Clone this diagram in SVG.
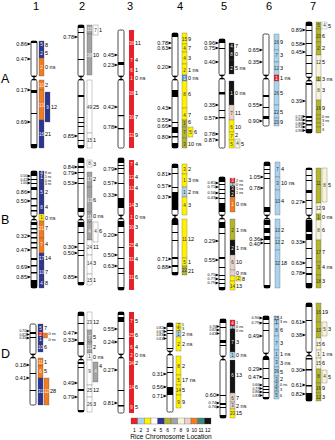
<svg xmlns="http://www.w3.org/2000/svg" width="335" height="440" viewBox="0 0 335 440">
<defs>
<style>
.c{fill:#fff;stroke:#000;stroke-width:.7}
.s rect{stroke:#555;stroke-width:.3}
.t{font-family:"Liberation Sans",Arial,sans-serif;font-size:5.5px;fill:#000;dominant-baseline:central}
.e{text-anchor:end}
.sm{font-size:3.8px}
.xs{font-size:3.3px}
.i{font-family:"Liberation Sans",Arial,sans-serif;font-size:4.5px;fill:#333;text-anchor:middle;dominant-baseline:central}
.w{fill:#fff2e8}
.h{font-family:"Liberation Sans",Arial,sans-serif;font-size:11px;text-anchor:middle}
.rl{font-family:"Liberation Sans",Arial,sans-serif;font-size:12.5px}
.c1{fill:#e8202a}.c2{fill:#a9d3ef}.c3{fill:#fff200}.c4{fill:#fff}.c5{fill:#2b3592}.c6{fill:#b3b52c}
.c7{fill:#a3a3a3}.c8{fill:#f6f4d8}.c9{fill:#e9d3c9}.c10{fill:#f37b21}.c11{fill:#3a8a80}.c12{fill:#141414}.cb{fill:#5a9bd4}
</style>
</defs>
<rect width="335" height="440" fill="#fff"/>
<g id="headers">
<text class="h" x="36" y="10">1</text><text class="h" x="82" y="10">2</text><text class="h" x="130" y="10">3</text>
<text class="h" x="180" y="10">4</text><text class="h" x="224" y="10">5</text><text class="h" x="269" y="10">6</text><text class="h" x="313" y="10">7</text>
<text class="rl" x="1" y="83">A</text><text class="rl" x="1" y="224">B</text><text class="rl" x="1" y="358">D</text>
</g>

<!-- ROW A -->
<g id="n1A">
<rect class="c" x="31" y="41" width="6" height="35" rx="1.5"/><rect class="c" x="31" y="80" width="6" height="68" rx="1.5"/>
<path d="M31,76h6l-6,4h6zM31,41h6v2h-6zM31,90h6v3h-6zM31,113h6v1h-6zM31,144h6v4h-6z"/>
<path d="M31,44l-3.5-1.4v2.8zM31,59l-3.5-1.4v2.8zM31,90l-3.5-1.4v2.8zM31,122l-3.5-1.4v2.8z"/>
<g class="t e"><text x="27" y="44">0.86</text><text x="27" y="59">0.47</text><text x="27" y="90">0.17</text><text x="27" y="122">0.69</text></g>
<g class="s"><rect class="c5" x="39" y="41" width="5" height="7"/><rect class="c5" x="39" y="48" width="5" height="10"/><rect class="c10" x="39" y="58" width="5" height="18"/><rect class="c10" x="39" y="80" width="5" height="10"/><rect class="c10" x="39" y="90" width="5" height="30"/><rect class="c5" x="39" y="120" width="5" height="28"/><rect class="c5" x="45" y="92" width="5" height="30"/></g>
<g class="i w"><text x="41.5" y="44.5">5</text><text x="41.5" y="53">2</text><text x="41.5" y="67">2</text><text x="41.5" y="85">10</text><text x="41.5" y="105">13</text><text x="41.5" y="134">16</text><text x="47.5" y="107">9</text></g>
<g class="t"><text x="45" y="44.5">8</text><text x="45" y="53">5</text><text x="45" y="67">0 ns</text><text x="45" y="85">2</text><text x="45" y="134">21</text><text x="51" y="107">12</text></g>
</g>

<g id="n2A">
<rect class="c" x="78" y="25" width="6" height="51" rx="1.5"/><rect class="c" x="78" y="80" width="6" height="68" rx="1.5"/>
<path d="M78,76h6l-6,4h6zM78,25h6v3h-6zM78,32h6v1h-6zM78,59h6v1h-6zM78,95h6v2h-6zM78,117h6v1h-6zM78,122h6v1h-6zM78,126h6v1h-6zM78,133h6v1h-6zM78,140h6v1h-6zM78,145h6v3h-6z"/>
<path d="M78,37l-3.5-1.4v2.8zM78,136l-3.5-1.4v2.8z"/>
<g class="t e"><text x="74" y="37">0.78</text><text x="74" y="136">0.85</text></g>
<g class="s"><rect class="c7" x="87" y="25" width="5" height="9"/><rect class="c7" x="87" y="34" width="5" height="41"/><rect class="c4" x="93" y="25" width="5" height="10"/><rect class="c4" x="87" y="80" width="5" height="53"/><rect class="c4" x="87" y="133" width="5" height="15"/></g>
<g class="i w"><text x="89.5" y="29">15</text><text x="89.5" y="55">38</text></g>
<g class="i"><text x="95.5" y="30">7</text><text x="89.5" y="107">49</text><text x="89.5" y="140">15</text></g>
<g class="t"><text x="99" y="30">1</text><text x="93" y="55">10</text><text x="93" y="107">25</text><text x="93" y="140">1</text></g>
</g>

<g id="n3A">
<rect class="c" x="118" y="30" width="6" height="46" rx="1.5"/><rect class="c" x="118" y="80" width="6" height="68" rx="1.5"/>
<path d="M118,76h6l-6,4h6zM118,62h6v3h-6zM118,115h6v1.2h-6zM118,128h6v1.2h-6z"/>
<path d="M118,55l-3.5-1.4v2.8zM118,65l-3.5-1.4v2.8zM118,107l-3.5-1.4v2.8zM118,127l-3.5-1.4v2.8z"/>
<g class="t e"><text x="114" y="55">0.45</text><text x="114" y="65">0.23</text><text x="114" y="107">0.42</text><text x="114" y="127">0.78</text></g>
<rect class="c1" x="129" y="30" width="5" height="118"/>
<g class="i w"><text x="131.5" y="43">38</text><text x="131.5" y="60">7</text><text x="131.5" y="70">6</text><text x="131.5" y="78">1</text><text x="131.5" y="93">38</text><text x="131.5" y="117">30</text><text x="131.5" y="135">32</text></g>
<g class="t"><text x="135" y="43">11</text><text x="135" y="60">4</text><text x="135" y="70">1</text><text x="135" y="78">0 ns</text><text x="135" y="93">1</text><text x="135" y="117">7</text><text x="135" y="135">9</text></g>
</g>

<g id="n4A">
<rect class="c" x="172" y="33" width="6" height="43" rx="1.5"/><rect class="c" x="172" y="80" width="6" height="68" rx="1.5"/>
<path d="M172,76h6l-6,4h6zM172,33h6v4h-6zM172,90h6v7h-6zM172,122h6v1h-6zM172,127h6v6h-6zM172,136h6v1.5h-6zM172,143h6v5h-6z"/>
<path d="M172,43l-3.5-1.4v2.8zM172,48l-3.5-1.4v2.8zM172,67l-3.5-1.4v2.8zM172,108l-3.5-1.4v2.8zM172,120l-3.5-1.4v2.8zM172,126l-3.5-1.4v2.8zM172,137l-3.5-1.4v2.8z"/>
<g class="t e"><text x="168" y="43">0.78</text><text x="168" y="48">0.63</text><text x="168" y="67">0.20</text><text x="168" y="108">0.43</text><text x="168" y="120">0.55</text><text x="168" y="126">0.66</text><text x="168" y="137">0.80</text></g>
<g class="s"><rect class="c3" x="182" y="33" width="5" height="11"/><rect class="c3" x="182" y="44" width="5" height="8"/><rect class="c3" x="182" y="52" width="5" height="12"/><rect class="c3" x="182" y="64" width="5" height="11"/><rect class="cb" x="182" y="75" width="5" height="6"/><rect class="c3" x="182" y="81" width="5" height="27"/><rect class="c3" x="182" y="108" width="5" height="12"/><rect class="c6" x="182" y="120" width="5" height="7"/><rect class="c6" x="182" y="127" width="5" height="11"/><rect class="c6" x="182" y="138" width="5" height="10"/><rect class="c3" x="188" y="127" width="5" height="10"/></g>
<g class="i"><text x="184.5" y="39">15</text><text x="184.5" y="48">4</text><text x="184.5" y="58">4</text><text x="184.5" y="70">2</text><text x="184.5" y="94">8</text><text x="184.5" y="115">4</text><text x="184.5" y="123">1</text><text x="184.5" y="132">7</text><text x="184.5" y="144">3</text><text x="190.5" y="132">5</text></g>
<text class="i w" x="184.5" y="78">1</text>
<g class="t"><text x="188" y="39">9</text><text x="188" y="48">7</text><text x="188" y="58">3</text><text x="188" y="70">1 ns</text><text x="188" y="78">0 ns</text><text x="188" y="94">6</text><text x="188" y="115">7</text><text x="188" y="122">6</text><text x="194" y="132">6</text><text x="188" y="144">10 ns</text></g>
</g>

<g id="n5A">
<rect class="c" x="219" y="39" width="6" height="36" rx="1.5"/><rect class="c" x="219" y="79" width="6" height="69" rx="1.5"/>
<path d="M219,75h6l-6,4h6zM219,39h6v4h-6zM219,48h6v1h-6zM219,92h6v2.5h-6zM219,110h6v1h-6zM219,117h6v1.2h-6z"/>
<path d="M219,43l-3.5-1.4v2.8zM219,48l-3.5-1.4v2.8zM219,62l-3.5-1.4v2.8zM219,105l-3.5-1.4v2.8zM219,118l-3.5-1.4v2.8zM219,134l-3.5-1.4v2.8zM219,140l-3.5-1.4v2.8z"/>
<g class="t e"><text x="215" y="43">0.96</text><text x="215" y="48">0.75</text><text x="215" y="62">0.40</text><text x="215" y="105">0.35</text><text x="215" y="118">0.57</text><text x="215" y="134">0.78</text><text x="215" y="140">0.87</text></g>
<g class="s"><rect class="c12" x="229" y="43" width="5" height="7"/><rect class="c12" x="229" y="50" width="5" height="10"/><rect class="c12" x="229" y="60" width="5" height="14"/><rect class="c12" x="229" y="81" width="5" height="24"/><rect class="c9" x="229" y="105" width="5" height="15"/><rect class="c3" x="229" y="120" width="5" height="12"/><rect class="c3" x="229" y="132" width="5" height="8"/><rect class="c3" x="229" y="140" width="5" height="8"/><rect class="c8" x="235" y="139" width="5" height="9"/></g>
<g class="i w"><text x="231.5" y="46">4</text><text x="231.5" y="54">8</text><text x="231.5" y="68">2</text><text x="231.5" y="93">1</text></g>
<g class="i"><text x="231.5" y="113">7</text><text x="231.5" y="127">6</text><text x="231.5" y="136">7</text><text x="231.5" y="144">5</text><text x="237.5" y="143.5">4</text></g>
<g class="t"><text x="235" y="46">7</text><text x="235" y="54">0</text><text x="235" y="68">5 ns</text><text x="235" y="93">0 ns</text><text x="235" y="113">11</text><text x="235" y="127">10</text><text x="235" y="135">2</text><text x="241" y="143.5">5</text></g>
</g>

<g id="n6A">
<rect class="c" x="263" y="34" width="6" height="41" rx="1.5"/><rect class="c" x="263" y="79" width="6" height="47" rx="1.5"/>
<path d="M263,75h6l-6,4h6zM263,95h6v2h-6zM263,107h6v1h-6zM263,116h6v3h-6z"/>
<path d="M263,50l-3.5-1.4v2.8zM263,62l-3.5-1.4v2.8zM263,105l-3.5-1.4v2.8zM263,121l-3.5-1.4v2.8z"/>
<g class="t e"><text x="259" y="50">0.65</text><text x="259" y="62">0.35</text><text x="259" y="105">0.55</text><text x="259" y="121">0.90</text></g>
<g class="s"><rect class="c2" x="274" y="34" width="5" height="16"/><rect class="c2" x="274" y="50" width="5" height="12"/><rect class="c2" x="274" y="62" width="5" height="13"/><rect class="c1" x="274" y="75" width="5" height="6"/><rect class="c2" x="274" y="81" width="5" height="24"/><rect class="c2" x="274" y="105" width="5" height="13"/><rect class="c2" x="274" y="118" width="5" height="8"/></g>
<g class="i"><text x="276.5" y="42">16</text><text x="276.5" y="55">7</text><text x="276.5" y="68">12</text><text x="276.5" y="93">26</text><text x="276.5" y="112">22</text><text x="276.5" y="122">20</text></g>
<text class="i w" x="276.5" y="78">1</text>
<g class="t"><text x="280" y="42">9</text><text x="280" y="55">3</text><text x="280" y="68">3</text><text x="280" y="78">1 ns</text><text x="280" y="93">5</text><text x="280" y="112">5</text><text x="280" y="122">9</text></g>
</g>

<g id="n7A">
<rect class="c" x="306" y="22" width="6" height="55" rx="1.5"/><rect class="c" x="306" y="81" width="6" height="52" rx="1.5"/>
<path d="M306,77h6l-6,4h6zM306,22h6v4h-6zM306,30h6v1h-6zM306,43h6v1h-6zM306,55h6v1h-6zM306,63h6v1h-6zM306,73h6v1h-6zM306,83h6v2h-6zM306,116h6v2h-6zM306,120h6v1.5h-6zM306,124h6v1.5h-6zM306,129h6v4h-6z"/>
<path d="M306,30l-3.5-1.4v2.8zM306,44l-3.5-1.4v2.8zM306,52l-3.5-1.4v2.8zM306,101l-3.5-1.4v2.8zM306,116.5l-3.5-1.4v2.8zM306,120l-3.5-1.4v2.8zM306,123.5l-3.5-1.4v2.8zM306,127l-3.5-1.4v2.8zM306,130.5l-3.5-1.4v2.8z"/>
<g class="t e"><text x="302" y="30">0.89</text><text x="302" y="44">0.58</text><text x="302" y="52">0.45</text><text x="302" y="101">0.39</text></g>
<g class="t e xs"><text x="302" y="116.5">0.71</text><text x="302" y="120">0.84</text><text x="302" y="123.5">0.86</text><text x="302" y="127">0.93</text><text x="302" y="130.5">0.96</text></g>
<g class="s"><rect class="c6" x="316" y="22" width="5" height="7"/><rect class="c6" x="316" y="29" width="5" height="13"/><rect class="c6" x="316" y="42" width="5" height="13"/><rect class="c8" x="316" y="55" width="5" height="22"/><rect class="c6" x="316" y="77" width="5" height="4"/><rect class="c8" x="316" y="81" width="5" height="19"/><rect class="c6" x="316" y="100" width="5" height="15"/><rect class="c6" x="316" y="115" width="5" height="4"/><rect class="c6" x="316" y="119" width="5" height="4"/><rect class="c6" x="316" y="123" width="5" height="4"/><rect class="c6" x="316" y="127" width="5" height="6"/><rect class="c4" x="322" y="22" width="5" height="7" style="stroke:#4a7fb0"/></g>
<g class="i"><text x="318.5" y="25.5">5</text><text x="318.5" y="36">20</text><text x="318.5" y="48">2</text><text x="318.5" y="62">12</text><text x="318.5" y="79">1</text><text x="318.5" y="90">8</text><text x="318.5" y="108">16</text><text x="324.5" y="25.5">4</text></g>
<g class="t"><text x="328" y="25.5">5</text><text x="322" y="36">6</text><text x="322" y="48">2</text><text x="322" y="62">5</text><text x="322" y="79">3 ns</text><text x="322" y="90">3</text><text x="322" y="108">9</text></g>
<g class="t sm"><text x="322" y="117">0 ns</text><text x="322" y="121">3 ns</text><text x="322" y="125">1</text><text x="322" y="130">3</text></g>
</g>

<!-- ROW B -->
<g id="n1B">
<rect class="c" x="31" y="171" width="6" height="45" rx="1.5"/><rect class="c" x="31" y="220" width="6" height="68" rx="1.5"/>
<path d="M31,216h6l-6,4h6zM31,171h6v5h-6zM31,179h6v1h-6zM31,183h6v1h-6zM31,187h6v3h-6zM31,198h6v1.5h-6zM31,205h6v1.5h-6zM31,210h6v1.5h-6zM31,222h6v3h-6zM31,228h6v1.5h-6zM31,232h6v1.5h-6zM31,237h6v1.5h-6zM31,242h6v1.5h-6zM31,247h6v1.5h-6zM31,258h6v2h-6zM31,265h6v1.5h-6zM31,272h6v1.5h-6zM31,280h6v8h-6z"/>
<path d="M31,176l-3.5-1.4v2.8zM31,179.5l-3.5-1.4v2.8zM31,183l-3.5-1.4v2.8zM31,192l-3.5-1.4v2.8zM31,201l-3.5-1.4v2.8zM31,236l-3.5-1.4v2.8zM31,250l-3.5-1.4v2.8zM31,267l-3.5-1.4v2.8zM31,277l-3.5-1.4v2.8z"/>
<g class="t e xs"><text x="27" y="176">0.50</text><text x="27" y="179.5">0.41</text><text x="27" y="183">1.00</text></g>
<g class="t e"><text x="27" y="192">0.86</text><text x="27" y="201">0.50</text><text x="27" y="236">0.32</text><text x="27" y="250">0.47</text><text x="27" y="267">0.69</text><text x="27" y="277">0.85</text></g>
<g class="s"><rect class="c5" x="39" y="171" width="5" height="4"/><rect class="c5" x="39" y="175" width="5" height="4"/><rect class="c5" x="39" y="179" width="5" height="3"/><rect class="c5" x="39" y="182" width="5" height="3"/><rect class="c5" x="39" y="185" width="5" height="15"/><rect class="c5" x="39" y="200" width="5" height="14"/><rect class="c3" x="39" y="214" width="5" height="7"/><rect class="c10" x="39" y="221" width="5" height="17"/><rect class="c10" x="39" y="238" width="5" height="15"/><rect class="c5" x="39" y="253" width="5" height="12"/><rect class="c5" x="39" y="265" width="5" height="13"/><rect class="c5" x="39" y="278" width="5" height="10"/></g>
<g class="i w"><text x="41.5" y="173">4</text><text x="41.5" y="177">1</text><text x="41.5" y="192">5</text><text x="41.5" y="207">8</text><text x="41.5" y="228">21</text><text x="41.5" y="244">7</text><text x="41.5" y="258">17</text><text x="41.5" y="272">10</text><text x="41.5" y="283">4</text></g>
<text class="i" x="41.5" y="217.5">1</text>
<g class="t xs"><text x="45" y="173">8 ns</text><text x="45" y="176.8">5 ns</text><text x="45" y="180.5">0 ns</text><text x="45" y="184.2">0 ns</text></g>
<g class="t"><text x="45" y="192">2</text><text x="45" y="207">4</text><text x="45" y="217.5">0 ns</text><text x="45" y="228">7</text><text x="45" y="244">4</text><text x="45" y="258">14</text><text x="45" y="272">7</text><text x="45" y="283">8</text></g>
</g>

<g id="n2B">
<rect class="c" x="78" y="158" width="6" height="58" rx="1.5"/><rect class="c" x="78" y="220" width="6" height="65" rx="1.5"/>
<path d="M78,216h6l-6,4h6zM78,158h6v5h-6zM78,166h6v2h-6zM78,172h6v1h-6zM78,178h6v1h-6zM78,183h6v1h-6zM78,208h6v4h-6zM78,222h6v5h-6zM78,232h6v1h-6zM78,243h6v1h-6zM78,250h6v1h-6zM78,255h6v1h-6zM78,282h6v3h-6z"/>
<path d="M78,167l-3.5-1.4v2.8zM78,173l-3.5-1.4v2.8zM78,183l-3.5-1.4v2.8zM78,247l-3.5-1.4v2.8zM78,253l-3.5-1.4v2.8zM78,277l-3.5-1.4v2.8z"/>
<g class="t e"><text x="74" y="167">0.84</text><text x="74" y="173">0.79</text><text x="74" y="183">0.53</text><text x="74" y="246.5">0.30</text><text x="74" y="253">0.50</text><text x="74" y="277">0.85</text></g>
<g class="s"><rect class="c4" x="87" y="160" width="5" height="7"/><rect class="c7" x="87" y="172" width="5" height="15"/><rect class="c7" x="87" y="187" width="5" height="25"/><rect class="c7" x="87" y="212" width="5" height="10"/><rect class="c7" x="87" y="222" width="5" height="18"/><rect class="c4" x="93" y="222" width="5" height="20"/><rect class="c4" x="87" y="240" width="5" height="15"/><rect class="c4" x="87" y="255" width="5" height="19"/><rect class="c4" x="87" y="274" width="5" height="11"/></g>
<g class="i w"><text x="89.5" y="179">17</text><text x="89.5" y="200">13</text><text x="89.5" y="217">11</text><text x="89.5" y="231">4</text></g>
<g class="i"><text x="89.5" y="163.5">8</text><text x="95.5" y="231">4</text><text x="89.5" y="247">24</text><text x="89.5" y="263">14</text><text x="89.5" y="280">15</text></g>
<g class="t"><text x="93" y="163.5">3</text><text x="93" y="179">2</text><text x="93" y="200">6</text><text x="93" y="216">0 ns</text><text x="99" y="231">6</text><text x="93" y="247">11</text><text x="93" y="263">3</text><text x="93" y="280">1</text></g>
</g>

<g id="n3B">
<rect class="c" x="118" y="158" width="6" height="57" rx="1.5"/><rect class="c" x="118" y="219" width="6" height="71" rx="1.5"/>
<path d="M118,215h6l-6,4h6zM118,158h6v5h-6zM118,165h6v1h-6zM118,168h6v1h-6zM118,173h6v1h-6zM118,183h6v1h-6zM118,198h6v10h-6zM118,221h6v6h-6zM118,232h6v1h-6zM118,247h6v1h-6zM118,258h6v1h-6zM118,268h6v1h-6zM118,273h6v1h-6zM118,287h6v3h-6z"/>
<path d="M118,169l-3.5-1.4v2.8zM118,183l-3.5-1.4v2.8zM118,195l-3.5-1.4v2.8zM118,235l-3.5-1.4v2.8zM118,255l-3.5-1.4v2.8zM118,266l-3.5-1.4v2.8z"/>
<g class="t e"><text x="114" y="169">0.79</text><text x="114" y="183">0.57</text><text x="114" y="195">0.33</text><text x="114" y="235">0.20</text><text x="114" y="255">0.50</text><text x="114" y="266">0.63</text></g>
<rect class="c1" x="129" y="160" width="5" height="130"/>
<g class="i w"><text x="131.5" y="164">7</text><text x="131.5" y="177">12</text><text x="131.5" y="188">12</text><text x="131.5" y="205">14</text><text x="131.5" y="217">1</text><text x="131.5" y="227">30</text><text x="131.5" y="245">25</text><text x="131.5" y="259">31</text><text x="131.5" y="277">31</text></g>
<g class="t"><text x="135" y="164">4</text><text x="135" y="177">4</text><text x="135" y="188">4</text><text x="135" y="205">3</text><text x="135" y="217">0 ns</text><text x="135" y="227">3</text><text x="135" y="245">4</text><text x="135" y="259">4</text><text x="135" y="277">6</text></g>
</g>

<g id="n4B">
<rect class="c" x="172" y="164" width="6" height="51" rx="1.5"/><rect class="c" x="172" y="219" width="6" height="56" rx="1.5"/>
<path d="M172,215h6l-6,4h6zM172,164h6v4h-6zM172,173h6v1h-6zM172,187h6v1h-6zM172,192h6v18h-6zM172,219h6v6h-6zM172,232h6v1h-6zM172,240h6v1h-6zM172,257h6v2h-6zM172,265h6v2h-6zM172,272h6v3h-6z"/>
<path d="M172,174l-3.5-1.4v2.8zM172,186l-3.5-1.4v2.8zM172,197l-3.5-1.4v2.8zM172,259l-3.5-1.4v2.8zM172,267l-3.5-1.4v2.8z"/>
<g class="t e"><text x="168" y="174">0.81</text><text x="168" y="186">0.57</text><text x="168" y="197">0.37</text><text x="168" y="259">0.71</text><text x="168" y="267">0.88</text></g>
<g class="s"><rect class="c3" x="182" y="164" width="5" height="10"/><rect class="c3" x="182" y="174" width="5" height="13"/><rect class="c2" x="182" y="187" width="5" height="10"/><rect class="c3" x="182" y="197" width="5" height="18"/><rect class="c3" x="182" y="219" width="5" height="39"/><rect class="c3" x="182" y="258" width="5" height="8"/><rect class="c6" x="182" y="266" width="5" height="9"/></g>
<g class="i"><text x="184.5" y="169">3</text><text x="184.5" y="180">1</text><text x="184.5" y="192">1</text><text x="184.5" y="205">4</text><text x="184.5" y="239">11</text><text x="184.5" y="262">5</text><text x="184.5" y="270.5">22</text></g>
<g class="t"><text x="188" y="169">2</text><text x="188" y="180">3 ns</text><text x="188" y="192">2 ns</text><text x="188" y="205">3</text><text x="188" y="239">12</text><text x="188" y="262">1</text><text x="188" y="270.5">21</text></g>
</g>

<g id="n5B">
<rect class="c" x="219" y="177" width="6" height="38" rx="1.5"/><rect class="c" x="219" y="219" width="6" height="71" rx="1.5"/>
<path d="M219,215h6l-6,4h6zM219,177h6v5h-6zM219,184h6v1h-6zM219,189h6v1h-6zM219,193h6v1h-6zM219,198h6v1h-6zM219,203h6v9h-6zM219,222h6v6h-6zM219,233h6v1h-6zM219,257h6v2h-6zM219,267h6v1h-6zM219,275h6v1h-6zM219,279h6v1h-6zM219,283h6v1h-6zM219,287h6v3h-6z"/>
<path d="M219,183l-3.5-1.4v2.8zM219,187l-3.5-1.4v2.8zM219,193l-3.5-1.4v2.8zM219,198l-3.5-1.4v2.8zM219,241l-3.5-1.4v2.8zM219,260l-3.5-1.4v2.8zM219,275l-3.5-1.4v2.8zM219,279l-3.5-1.4v2.8zM219,283l-3.5-1.4v2.8z"/>
<g class="t e sm"><text x="215" y="183">0.81</text><text x="215" y="187">0.71</text><text x="215" y="192.5">0.56</text><text x="215" y="198">0.43</text><text x="215" y="275">0.75</text><text x="215" y="279">0.77</text><text x="215" y="283">0.79</text></g>
<g class="t e"><text x="215" y="241">0.29</text><text x="215" y="260">0.55</text></g>
<g class="s"><rect class="c1" x="230" y="178" width="5" height="5"/><rect class="c2" x="230" y="183" width="5" height="3"/><rect class="c12" x="230" y="186" width="5" height="5"/><rect class="c12" x="230" y="191" width="5" height="6"/><rect class="c10" x="230" y="197" width="5" height="15"/><rect class="c6" x="230" y="219" width="5" height="21"/><rect class="c12" x="230" y="240" width="5" height="15"/><rect class="c9" x="230" y="255" width="5" height="15"/><rect class="c9" x="230" y="270" width="5" height="6"/><rect class="c3" x="230" y="276" width="5" height="5"/><rect class="c3" x="236" y="276" width="5" height="5"/><rect class="c3" x="230" y="281" width="5" height="9"/></g>
<g class="i w"><text x="232.5" y="180.5">3</text><text x="232.5" y="188.5">3</text><text x="232.5" y="194">2</text><text x="232.5" y="204">1</text><text x="232.5" y="248">2</text></g>
<g class="i"><text x="232.5" y="184.5">1</text><text x="232.5" y="230">2</text><text x="232.5" y="262">6</text><text x="238.5" y="278.5">2</text><text x="232.5" y="286">14</text></g>
<g class="t sm"><text x="236" y="180.5">2 ns</text><text x="236" y="184.5">0 ns</text><text x="236" y="188.5">1 ns</text><text x="236" y="193">1 ns</text></g>
<g class="t"><text x="236" y="204">0 ns</text><text x="236" y="230">1 ns</text><text x="236" y="248">1 ns</text><text x="236" y="262">10</text><text x="236" y="272.5">0 ns</text><text x="242" y="278.5">8</text><text x="236" y="286">13</text></g>
</g>

<g id="n6B">
<rect class="c" x="264" y="162" width="6" height="53" rx="1.5"/><rect class="c" x="264" y="219" width="6" height="69" rx="1.5"/>
<path d="M264,215h6l-6,4h6zM264,162h6v4h-6zM264,169h6v1h-6zM264,173h6v1h-6zM264,178h6v1h-6zM264,207h6v5h-6zM264,220h6v5h-6zM264,228h6v5h-6zM264,236h6v4h-6zM264,243h6v1h-6zM264,285h6v3h-6z"/>
<path d="M264,177l-3.5-1.4v2.8zM264,188l-3.5-1.4v2.8zM264,239.5l-3.5-1.4v2.8zM264,243l-3.5-1.4v2.8z"/>
<g class="t e"><text x="260" y="177">1.05</text><text x="260" y="188">0.78</text><text x="260" y="239">0.36</text><text x="260" y="243.5">0.40</text></g>
<g class="s"><rect class="c2" x="275" y="162" width="5" height="15"/><rect class="c2" x="275" y="177" width="5" height="13"/><rect class="c2" x="275" y="190" width="5" height="25"/><rect class="c2" x="275" y="219" width="5" height="19"/><rect class="c2" x="275" y="238" width="5" height="12"/><rect class="c2" x="275" y="250" width="5" height="38"/></g>
<g class="i"><text x="277.5" y="169">7</text><text x="277.5" y="183">3</text><text x="277.5" y="201">10</text><text x="277.5" y="230">10</text><text x="277.5" y="242">12</text><text x="277.5" y="263">32</text></g>
<g class="t"><text x="281" y="169">4</text><text x="281" y="183">10 ns</text><text x="281" y="201">4</text><text x="281" y="230">2</text><text x="281" y="242">2</text><text x="281" y="263">18</text></g>
</g>

<g id="n7B">
<rect class="c" x="306" y="168" width="6" height="47" rx="1.5"/><rect class="c" x="306" y="219" width="6" height="69" rx="1.5"/>
<path d="M306,215h6l-6,4h6zM306,168h6v2h-6zM306,175h6v1h-6zM306,180h6v1h-6zM306,190h6v3h-6zM306,200h6v1h-6zM306,208h6v1h-6zM306,220h6v12h-6zM306,234h6v6h-6zM306,248h6v1h-6zM306,258h6v1h-6zM306,267h6v1h-6zM306,273h6v2h-6zM306,283h6v5h-6z"/>
<path d="M306,202l-3.5-1.4v2.8zM306,242l-3.5-1.4v2.8zM306,263l-3.5-1.4v2.8zM306,273l-3.5-1.4v2.8z"/>
<g class="t e"><text x="302" y="202">0.27</text><text x="302" y="242">0.33</text><text x="302" y="263">0.63</text><text x="302" y="273">0.78</text></g>
<g class="s"><rect class="c6" x="316" y="168" width="5" height="35"/><rect class="c8" x="322" y="168" width="5" height="34"/><rect class="c8" x="316" y="203" width="5" height="11"/><rect class="c6" x="316" y="214" width="5" height="6"/><rect class="c8" x="316" y="220" width="5" height="20"/><rect class="c6" x="316" y="240" width="5" height="22"/><rect class="c6" x="316" y="262" width="5" height="13"/><rect class="c6" x="316" y="275" width="5" height="13"/></g>
<g class="i"><text x="318.5" y="183">11</text><text x="324.5" y="185">8</text><text x="318.5" y="208">12</text><text x="318.5" y="217">1</text><text x="318.5" y="230">8</text><text x="318.5" y="252">17</text><text x="318.5" y="267">3</text><text x="318.5" y="281">18</text></g>
<g class="t"><text x="328" y="185">5</text><text x="322" y="208">9</text><text x="322" y="217">0 ns</text><text x="322" y="230">6</text><text x="322" y="252">7</text><text x="322" y="267">4 ns</text><text x="322" y="281">3</text></g>
</g>

<!-- ROW D -->
<g id="n1D">
<rect class="c" x="30" y="324" width="6" height="30" rx="1.5"/><rect class="c" x="30" y="358" width="6" height="47" rx="1.5"/>
<path d="M30,354h6l-6,4h6zM30,332h6v2h-6zM30,337h6v1h-6zM30,373h6v1h-6zM30,390h6v1h-6z"/>
<path d="M30,331l-3.5-1.4v2.8zM30,334.5l-3.5-1.4v2.8zM30,338l-3.5-1.4v2.8zM30,365l-3.5-1.4v2.8zM30,378l-3.5-1.4v2.8z"/>
<g class="t e xs"><text x="26" y="331">0.70</text><text x="26" y="334.5">0.62</text><text x="26" y="338">0.35</text></g>
<g class="t e"><text x="26" y="365">0.18</text><text x="26" y="378">0.41</text></g>
<g class="s"><rect class="c5" x="38" y="324" width="5" height="8"/><rect class="c1" x="38" y="332" width="5" height="4"/><rect class="c10" x="43.5" y="333" width="4" height="5"/><rect class="c5" x="38" y="336" width="5" height="6"/><rect class="c5" x="38" y="342" width="5" height="10"/><rect class="c10" x="38" y="358" width="5" height="8"/><rect class="c10" x="38" y="366" width="5" height="12"/><rect class="c5" x="38" y="378" width="5" height="27"/><rect class="c10" x="44" y="378" width="5" height="27"/></g>
<g class="i w"><text x="40.5" y="328">5</text><text x="40.5" y="334">2</text><text x="40.5" y="339">1</text><text x="40.5" y="347">10</text><text x="40.5" y="362">11</text><text x="40.5" y="371">6</text><text x="40.5" y="391">31</text><text x="46.5" y="391">12</text></g>
<g class="t sm"><text x="48.5" y="334">0 ns</text><text x="48.5" y="339.5">0 ns</text></g>
<g class="t"><text x="44" y="328">7</text><text x="44" y="347">6</text><text x="44" y="362">1</text><text x="44" y="371">5</text><text x="50" y="391">28</text></g>
</g>

<g id="n2D">
<rect class="c" x="78" y="312" width="6" height="44" rx="1.5"/><rect class="c" x="78" y="360" width="6" height="52" rx="1.5"/>
<path d="M78,356h6l-6,4h6zM78,312h6v4h-6zM78,323h6v1h-6zM78,342h6v3h-6zM78,362h6v2h-6zM78,367h6v1h-6zM78,389h6v2h-6zM78,410h6v2h-6z"/>
<path d="M78,333l-3.5-1.4v2.8zM78,340l-3.5-1.4v2.8zM78,383l-3.5-1.4v2.8zM78,397l-3.5-1.4v2.8z"/>
<g class="t e"><text x="74" y="333">0.47</text><text x="74" y="340">0.33</text><text x="74" y="383">0.49</text><text x="74" y="397">0.79</text></g>
<g class="s"><rect class="c4" x="87" y="312" width="5" height="18"/><rect class="c7" x="87" y="330" width="5" height="12"/><rect class="c7" x="87" y="342" width="5" height="11"/><rect class="c4" x="87" y="353" width="5" height="7"/><rect class="c4" x="87" y="360" width="5" height="25"/><rect class="c7" x="93" y="362" width="5" height="20"/><rect class="c4" x="87" y="385" width="5" height="12"/><rect class="c4" x="87" y="397" width="5" height="15"/></g>
<g class="i w"><text x="89.5" y="337">7</text><text x="89.5" y="347">11</text><text x="95.5" y="371">4</text></g>
<g class="i"><text x="89.5" y="322">23</text><text x="89.5" y="356.5">1</text><text x="89.5" y="371">9</text><text x="89.5" y="390">25</text><text x="89.5" y="404">26</text></g>
<g class="t"><text x="93" y="322">12</text><text x="93" y="337">5</text><text x="93" y="347">2</text><text x="93" y="356.5">0 ns</text><text x="99" y="366">4</text><text x="93" y="390">12</text><text x="93" y="404">3</text></g>
</g>

<g id="n3D">
<rect class="c" x="118" y="312" width="6" height="42" rx="1.5"/><rect class="c" x="118" y="358" width="6" height="55" rx="1.5"/>
<path d="M118,354h6l-6,4h6zM118,312h6v3h-6zM118,317h6v5h-6zM118,338h6v1h-6zM118,390h6v1h-6zM118,405h6v1.5h-6z"/>
<path d="M118,329l-3.5-1.4v2.8zM118,342l-3.5-1.4v2.8zM118,370l-3.5-1.4v2.8zM118,403l-3.5-1.4v2.8z"/>
<g class="t e"><text x="114" y="329">0.55</text><text x="114" y="342">0.24</text><text x="114" y="370">0.27</text><text x="114" y="403">0.81</text></g>
<rect class="c1" x="129" y="312" width="5" height="101"/>
<g class="i w"><text x="131.5" y="321">7</text><text x="131.5" y="335">25</text><text x="131.5" y="347">6</text><text x="131.5" y="355">2</text><text x="131.5" y="363">34</text><text x="131.5" y="387">14</text><text x="131.5" y="407">9</text></g>
<g class="t"><text x="135" y="321">5</text><text x="135" y="335">6</text><text x="135" y="347">4</text><text x="135" y="355">0 ns</text><text x="135" y="363">2</text><text x="135" y="387">6</text><text x="135" y="407">5</text></g>
</g>

<g id="n4D">
<rect class="c" x="167" y="323" width="6" height="28" rx="1.5"/><rect class="c" x="167" y="355" width="6" height="57" rx="1.5"/>
<path d="M167,351h6l-6,4h6zM167,323h6v4h-6zM167,330h6v1h-6zM167,333h6v1h-6zM167,348h6v1h-6zM167,367h6v1h-6zM167,372h6v1h-6zM167,387h6v8h-6z"/>
<path d="M167,328l-3.5-1.4v2.8zM167,331.5l-3.5-1.4v2.8zM167,335l-3.5-1.4v2.8zM167,338.5l-3.5-1.4v2.8zM167,374l-3.5-1.4v2.8zM167,387l-3.5-1.4v2.8zM167,396l-3.5-1.4v2.8z"/>
<g class="t e xs"><text x="163" y="328">0.82</text><text x="163" y="331.5">0.67</text><text x="163" y="335">0.83</text><text x="163" y="338.5">0.63</text></g>
<g class="t e"><text x="163" y="374">0.31</text><text x="163" y="387">0.56</text><text x="163" y="396">0.71</text></g>
<g class="s"><rect class="c3" x="176" y="323" width="5" height="4"/><rect class="c3" x="176" y="327" width="5" height="4"/><rect class="c2" x="176" y="331" width="5" height="6"/><rect class="c3" x="176" y="337" width="5" height="14"/><rect class="c3" x="176" y="356" width="5" height="19"/><rect class="c3" x="176" y="375" width="5" height="10"/><rect class="c3" x="176" y="385" width="5" height="10"/><rect class="c3" x="176" y="395" width="5" height="13"/></g>
<g class="i"><text x="178.5" y="325">7</text><text x="178.5" y="329">5</text><text x="178.5" y="334">1</text><text x="178.5" y="344">2</text><text x="178.5" y="366">8</text><text x="178.5" y="380">5</text><text x="178.5" y="390">14</text><text x="178.5" y="402">9</text></g>
<g class="t sm"><text x="182" y="325">5</text><text x="182" y="329">3</text></g>
<g class="t"><text x="182" y="334">2 ns</text><text x="182" y="344">2 ns</text><text x="182" y="366">2</text><text x="182" y="380">17 ns</text><text x="182" y="390">5</text><text x="182" y="402">9</text></g>
</g>

<g id="n5D">
<rect class="c" x="220" y="319" width="6" height="37" rx="1.5"/><rect class="c" x="220" y="360" width="6" height="58" rx="1.5"/>
<path d="M220,356h6l-6,4h6zM220,319h6v4h-6zM220,327h6v1h-6zM220,340h6v3h-6zM220,345h6v1h-6zM220,395h6v1h-6zM220,403h6v2h-6zM220,407h6v1h-6zM220,415h6v3h-6z"/>
<path d="M220,326.5l-3.5-1.4v2.8zM220,330l-3.5-1.4v2.8zM220,333.5l-3.5-1.4v2.8zM220,395l-3.5-1.4v2.8zM220,403l-3.5-1.4v2.8zM220,407l-3.5-1.4v2.8z"/>
<g class="t e xs"><text x="216" y="326.5">0.76</text><text x="216" y="330">0.82</text><text x="216" y="333.5">0.63</text></g>
<g class="t e sm"><text x="216" y="403">0.74</text><text x="216" y="407">0.76</text></g>
<g class="t e"><text x="216" y="395">0.60</text></g>
<g class="s"><rect class="c1" x="230" y="320" width="5" height="6"/><rect class="c2" x="230" y="326" width="5" height="3"/><rect class="c12" x="230" y="329" width="5" height="23"/><rect class="c2" x="230" y="352" width="5" height="6"/><rect class="c12" x="230" y="360" width="5" height="33"/><rect class="c9" x="230" y="393" width="5" height="9"/><rect class="c9" x="230" y="402" width="5" height="7"/><rect class="c3" x="230" y="409" width="5" height="9"/></g>
<g class="i w"><text x="232.5" y="323">4</text><text x="232.5" y="342">7</text><text x="232.5" y="375">6</text></g>
<g class="i"><text x="232.5" y="327.5">1</text><text x="232.5" y="355">1</text><text x="232.5" y="398">6</text><text x="232.5" y="405.5">3</text><text x="232.5" y="413">20</text></g>
<g class="t sm"><text x="236" y="323">1</text><text x="236" y="327.2">0 ns</text><text x="236" y="331.4">0 ns</text></g>
<g class="t"><text x="236" y="342">3</text><text x="236" y="355">0 ns</text><text x="236" y="375">13</text><text x="236" y="398">7</text><text x="236" y="405.5">2 ns</text><text x="236" y="413">15</text></g>
</g>

<g id="n6D">
<rect class="c" x="263" y="316" width="6" height="37" rx="1.5"/><rect class="c" x="263" y="357" width="6" height="42" rx="1.5"/>
<path d="M263,353h6l-6,4h6zM263,316h6v4h-6zM263,323h6v1h-6zM263,330h6v1h-6zM263,357h6v3h-6zM263,368h6v1h-6zM263,378h6v1h-6zM263,386h6v1h-6zM263,389h6v1h-6zM263,392h6v1h-6zM263,397h6v2h-6z"/>
<path d="M263,318l-3.5-1.4v2.8zM263,323l-3.5-1.4v2.8zM263,336l-3.5-1.4v2.8zM263,369l-3.5-1.4v2.8zM263,377l-3.5-1.4v2.8zM263,385l-3.5-1.4v2.8zM263,388.5l-3.5-1.4v2.8zM263,392l-3.5-1.4v2.8zM263,395.5l-3.5-1.4v2.8z"/>
<g class="t e sm"><text x="259" y="317.5">0.90</text><text x="259" y="323">0.79</text></g>
<g class="t e"><text x="259" y="336">0.49</text><text x="259" y="369">0.29</text><text x="259" y="377">0.47</text></g>
<g class="t e xs"><text x="259" y="385">0.66</text><text x="259" y="388.5">0.79</text><text x="259" y="392">0.86</text><text x="259" y="395.5">0.83</text></g>
<g class="s"><rect class="c2" x="274" y="316" width="5" height="4"/><rect class="c2" x="274" y="320" width="5" height="4"/><rect class="c2" x="274" y="324" width="5" height="12"/><rect class="c2" x="274" y="336" width="5" height="14"/><rect class="c2" x="274" y="350" width="5" height="8"/><rect class="c2" x="274" y="358" width="5" height="9"/><rect class="c2" x="274" y="367" width="5" height="9"/><rect class="c2" x="274" y="376" width="5" height="6"/><rect class="c2" x="274" y="382" width="5" height="5"/><rect class="c2" x="274" y="387" width="5" height="5"/><rect class="c2" x="274" y="392" width="5" height="7"/></g>
<g class="i"><text x="276.5" y="318">15</text><text x="276.5" y="322">1</text><text x="276.5" y="330">8</text><text x="276.5" y="343">7</text><text x="276.5" y="354">1</text><text x="276.5" y="362.5">3</text><text x="276.5" y="371.5">36</text><text x="276.5" y="379">3</text><text x="276.5" y="384.5">3</text><text x="276.5" y="389.5">5</text><text x="276.5" y="395.5">5</text></g>
<g class="t sm"><text x="280" y="317.5">4</text><text x="280" y="322">3 ns</text></g>
<g class="t"><text x="280" y="330">6</text><text x="280" y="343">3</text><text x="280" y="354">1 ns</text><text x="280" y="362.5">3 ns</text><text x="280" y="371.5">5</text><text x="280" y="379">2</text></g>
<g class="t sm"><text x="280" y="384.5">0 ns</text><text x="280" y="389.5">3</text><text x="280" y="395.5">6</text></g>
</g>

<g id="n7D">
<rect class="c" x="306" y="303" width="6" height="49" rx="1.5"/><rect class="c" x="306" y="356" width="6" height="45" rx="1.5"/>
<path d="M306,352h6l-6,4h6zM306,303h6v4h-6zM306,320h6v1h-6zM306,358h6v1.5h-6zM306,369h6v1.5h-6zM306,385h6v1.5h-6zM306,393h6v8h-6z"/>
<path d="M306,322l-3.5-1.4v2.8zM306,335l-3.5-1.4v2.8zM306,370l-3.5-1.4v2.8zM306,385l-3.5-1.4v2.8zM306,394l-3.5-1.4v2.8z"/>
<g class="t e"><text x="302" y="322">0.61</text><text x="302" y="335">0.38</text><text x="302" y="370">0.30</text><text x="302" y="385">0.61</text><text x="302" y="394">0.82</text></g>
<g class="s"><rect class="c6" x="316" y="303" width="5" height="19"/><rect class="c6" x="316" y="322" width="5" height="16"/><rect class="c8" x="322" y="322" width="5" height="14"/><rect class="c8" x="316" y="338" width="5" height="12"/><rect class="c8" x="316" y="350" width="5" height="8"/><rect class="c8" x="316" y="358" width="5" height="11"/><rect class="c6" x="316" y="369" width="5" height="14"/><rect class="c8" x="322" y="370" width="5" height="13"/><rect class="c6" x="316" y="383" width="5" height="10"/><rect class="c6" x="316" y="393" width="5" height="8"/></g>
<g class="i"><text x="318.5" y="312">16</text><text x="318.5" y="330">10</text><text x="324.5" y="329">5</text><text x="318.5" y="344">15</text><text x="318.5" y="354">1</text><text x="318.5" y="363">15</text><text x="318.5" y="376">8</text><text x="324.5" y="376.5">4</text><text x="318.5" y="388">16</text><text x="318.5" y="397">12</text></g>
<g class="t"><text x="322" y="312">19</text><text x="328" y="329">3</text><text x="322" y="344">6</text><text x="322" y="354">1 ns</text><text x="322" y="363">6</text><text x="328" y="376.5">5</text><text x="322" y="388">9</text><text x="322" y="397">3</text></g>
</g>

<g id="legend">
<g style="stroke:#555;stroke-width:.3">
<rect class="c1" x="131" y="418" width="6.67" height="6"/><rect class="c2" x="137.67" y="418" width="6.67" height="6"/><rect class="c3" x="144.33" y="418" width="6.67" height="6"/><rect class="c4" x="151" y="418" width="6.67" height="6"/><rect class="c5" x="157.67" y="418" width="6.67" height="6"/><rect class="c6" x="164.33" y="418" width="6.67" height="6"/><rect class="c7" x="171" y="418" width="6.67" height="6"/><rect class="c8" x="177.67" y="418" width="6.67" height="6"/><rect class="c9" x="184.33" y="418" width="6.67" height="6"/><rect class="c10" x="191" y="418" width="6.67" height="6"/><rect class="c11" x="197.67" y="418" width="6.67" height="6"/><rect class="c12" x="204.33" y="418" width="6.67" height="6"/>
</g>
<g class="t" style="text-anchor:middle;font-size:5px"><text x="134.3" y="429.5">1</text><text x="141" y="429.5">2</text><text x="147.7" y="429.5">3</text><text x="154.3" y="429.5">4</text><text x="161" y="429.5">5</text><text x="167.7" y="429.5">6</text><text x="174.3" y="429.5">7</text><text x="181" y="429.5">8</text><text x="187.7" y="429.5">9</text><text x="194.3" y="429.5">10</text><text x="201" y="429.5">11</text><text x="207.7" y="429.5">12</text></g>
<text class="t" x="171" y="436.5" style="text-anchor:middle;font-size:6.6px">Rice Chromosome Location</text>
</g>
</svg>
